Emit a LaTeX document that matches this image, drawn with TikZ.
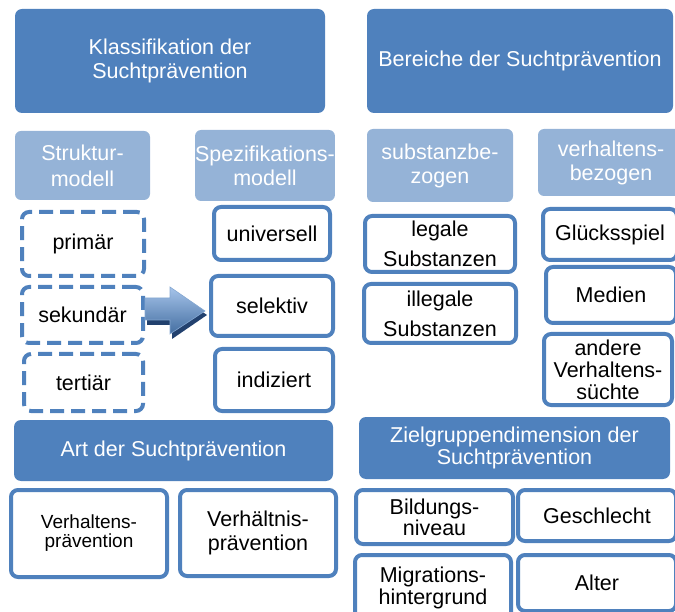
\documentclass[tikz,border=0pt]{standalone}
\usepackage{fontspec}
\setmainfont{Liberation Sans}
\definecolor{cdark}{HTML}{4F81BD}
\definecolor{clight}{HTML}{95B3D7}
\definecolor{cshadow}{HTML}{22416E}
\definecolor{carrowtop}{HTML}{A6C4EA}
\begin{document}
\begin{tikzpicture}[x=1pt,y=-1pt,
  base/.style={inner sep=0pt, outer sep=0pt, align=center, font=\fontsize{21.5}{24}\selectfont},
  hdark/.style={base, fill=cdark, text=white, rounded corners=7pt},
  hlight/.style={base, fill=clight, text=white, rounded corners=6pt},
  sbox/.style={base, draw=cdark, line width=4pt, fill=white, text=black, rounded corners=7pt},
  dbox/.style={sbox, dash pattern=on 14pt off 7pt},
  sz/.style 2 args={minimum width=#1, minimum height=#2}
]
\useasboundingbox (0,0) rectangle (675,612);
\begin{scope}
\clip (0,0) rectangle (675,612);
% top headers
\node[hdark, sz={310}{104}] (klass) at (170,61) {Klassifikation der\\Suchtprävention};
\node[hdark, sz={306}{104}] (bereich) at (520,61) {Bereiche der Suchtprävention};
% light headers
\node[hlight, sz={135}{69}, font=\fontsize{21.5}{26}\selectfont] (struktur) at (82.5,165.5) {Struktur-\\modell};
\node[hlight, sz={130}{71}] (spezif) at (265,165.5) {Spezifikations-\\modell};
\node[hlight, sz={146}{73}] (substanz) at (440,165.5) {substanzbe-\\zogen};
\node[hlight, sz={146}{67}] (verhalt) at (611,162.5) {verhaltens-\\bezogen};
% dashed boxes
\node[dbox, sz={122}{64}] (prim) at (83,244) {primär};
\node[dbox, sz={121}{56}] (sek) at (82.5,315) {sekundär};
\node[dbox, sz={119}{57}] (tert) at (83.5,382.5) {tertiär};
% spezifikation boxes
\node[sbox, sz={116}{53}] (univ) at (272,233.5) {universell};
\node[sbox, sz={122}{60}] (sel) at (272,306) {selektiv};
\node[sbox, sz={118}{62}] (ind) at (274,380) {indiziert};
% substanz boxes
\node[sbox, sz={150}{56}, font=\fontsize{21.5}{30}\selectfont] (legal) at (440,244) {legale\\Substanzen};
\node[sbox, sz={152}{59}, font=\fontsize{21.5}{30}\selectfont] (illegal) at (440,313.5) {illegale\\Substanzen};
% verhalten boxes
\node[sbox, sz={134}{51}] (gluck) at (610,234.5) {Glücksspiel};
\node[sbox, sz={130}{56}] (medien) at (611,295) {Medien};
\node[sbox, sz={128}{71}, font=\fontsize{21.5}{22}\selectfont] (andere) at (608,369.5) {andere\\Verhaltens-\\süchte};
% Art
\node[hdark, sz={319}{61}] (art) at (173.5,450.5) {Art der Suchtprävention};
\node[sbox, sz={156}{87}, font=\fontsize{19}{19}\selectfont] (vhp) at (89,533.5) {Verhaltens-\\prävention};
\node[sbox, sz={156}{86}, font=\fontsize{21.5}{24}\selectfont] (vnp) at (258,533) {Verhältnis-\\prävention};
% Zielgruppen
\node[hdark, sz={311}{62}, font=\fontsize{21.5}{22}\selectfont] (ziel) at (514.5,448) {Zielgruppendimension der\\Suchtprävention};
\node[sbox, sz={157}{54}, font=\fontsize{21.5}{21}\selectfont] (bild) at (434.5,517) {Bildungs-\\niveau};
\node[sbox, sz={158}{51}] (geschl) at (597,515.5) {Geschlecht};
\node[sbox, sz={156}{66}, font=\fontsize{21.5}{22}\selectfont] (migr) at (433,588) {Migrations-\\hintergrund};
\node[sbox, sz={158}{56}] (alter) at (597,583) {Alter};
% block arrow
\fill[cshadow] (147,302) -- (172,302) -- (172,291) -- (207,315) -- (172,339) -- (172,325) -- (147,325) -- cycle;
\shade[top color=carrowtop, bottom color=cdark!85!black, draw=cdark!70!white, line width=0.6pt]
  (145,298) -- (170,298) -- (170,287) -- (205,311) -- (170,334) -- (170,320) -- (145,320) -- cycle;
\end{scope}
\end{tikzpicture}
\end{document}
